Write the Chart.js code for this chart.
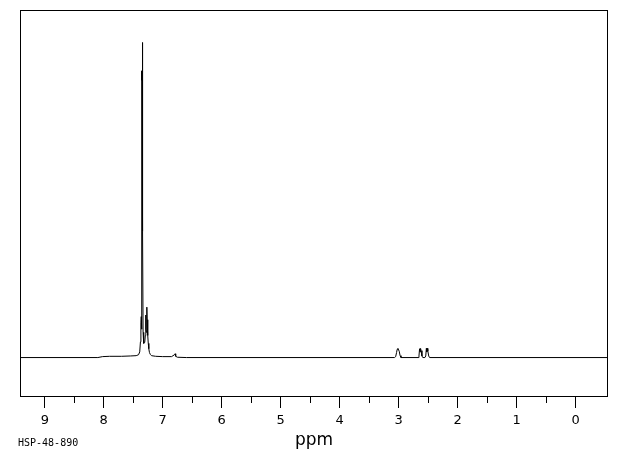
<!DOCTYPE html>
<html>
<head>
<meta charset="utf-8">
<script src="https://cdn.jsdelivr.net/npm/chart.js@4"></script>
<style>
  html, body { margin: 0; padding: 0; background: #fff; }
  #wrap { position: relative; width: 620px; height: 455px; }
  #code { position: absolute; left: 18px; top: 437px; font: 10px "DejaVu Sans Mono", monospace; color: #000; }
</style>
</head>
<body>
<div id="wrap">
  <canvas id="nmr" width="620" height="455"></canvas>
  <div id="code">HSP-48-890</div>
</div>
<script>
// --- spectrum data (ppm, intensity) ---
const ppm = [
  9.42, 8.10, 8.02, 7.90, 7.70, 7.55, 7.45, 7.41, 7.39, 7.378, 7.37, 7.364,
  7.36, 7.357, 7.355, 7.352, 7.349, 7.347, 7.344, 7.342, 7.340, 7.337, 7.333,
  7.327, 7.318, 7.305,
  7.295, 7.289, 7.284, 7.278, 7.272, 7.267, 7.262, 7.257, 7.251, 7.245, 7.236,
  7.225, 7.21, 7.19, 7.12, 7.0, 6.85, 6.80, 6.79, 6.78, 6.75, 6.6,
  3.07, 3.05, 3.035, 3.025, 3.012, 3.0, 2.99, 2.975, 2.96,
  2.67, 2.655, 2.645, 2.637, 2.628, 2.62, 2.605, 2.59,
  2.555, 2.54, 2.53, 2.522, 2.514, 2.505, 2.49, 2.475,
  -0.55
];
const intensity = [
  0, 0, 0.3, 0.4, 0.4, 0.5, 0.6, 0.9, 1.8, 5, 11, 13,
  9, 20, 91, 88, 91, 90, 91, 100, 92, 40, 8,
  5, 4.5, 4.8,
  7, 13.5, 9, 8, 11, 16, 10, 12, 7, 4.5, 2.8,
  1.6, 1.0, 0.6, 0.4, 0.3, 0.3, 0.9, 1.2, 0.4, 0.1, 0,
  0, 0.3, 1.6, 2.6, 2.9, 2.4, 2.0, 0.6, 0,
  0, 0.5, 2.8, 1.8, 2.9, 2.2, 0.5, 0,
  0, 0.5, 2.9, 1.8, 2.9, 2.1, 0.5, 0,
  0
];

const X_MIN = -0.55;
const X_MAX = 9.42;
const Y_MIN = -12.2;
const Y_MAX = 110.3;

// frame + minor ticks
const framePlugin = {
  id: 'frame',
  afterDraw(chart) {
    const { ctx, chartArea } = chart;
    const xs = chart.scales.x;
    ctx.save();
    ctx.strokeStyle = '#000';
    ctx.lineWidth = 1;
    ctx.strokeRect(chartArea.left + 0.5, chartArea.top + 0.5,
      chartArea.right - chartArea.left - 1, chartArea.bottom - chartArea.top);
    ctx.beginPath();
    for (let v = 0.5; v < X_MAX; v += 1) {
      const px = Math.round(xs.getPixelForValue(v)) + 0.5;
      ctx.moveTo(px, chartArea.bottom);
      ctx.lineTo(px, chartArea.bottom + 7);
    }
    ctx.stroke();
    ctx.restore();
  }
};

new Chart(document.getElementById('nmr').getContext('2d'), {
  type: 'line',
  data: {
    datasets: [{
      data: ppm.map((p, i) => ({ x: p, y: intensity[i] })),
      borderColor: '#000',
      borderWidth: 1,
      pointRadius: 0,
      tension: 0,
      fill: false
    }]
  },
  options: {
    responsive: false,
    animation: false,
    layout: { padding: { left: 20, right: 12, top: 10, bottom: 0 } },
    plugins: { legend: { display: false }, tooltip: { enabled: false } },
    scales: {
      x: {
        type: 'linear',
        reverse: true,
        min: X_MIN,
        max: X_MAX,
        afterFit(scale) { scale.height = 59; },
        border: { display: false },
        grid: { drawOnChartArea: false, tickLength: 12, tickColor: '#000', tickWidth: 1 },
        ticks: {
          stepSize: 1,
          includeBounds: false,
          maxRotation: 0,
          padding: 5,
          color: '#000',
          font: { family: 'DejaVu Sans', size: 13 }
        },
        title: {
          display: true,
          text: 'ppm',
          color: '#000',
          font: { family: 'DejaVu Sans', size: 17 },
          padding: { top: 0, bottom: 4 }
        }
      },
      y: {
        display: false,
        min: Y_MIN,
        max: Y_MAX
      }
    }
  },
  plugins: [framePlugin]
});
</script>
</body>
</html>
